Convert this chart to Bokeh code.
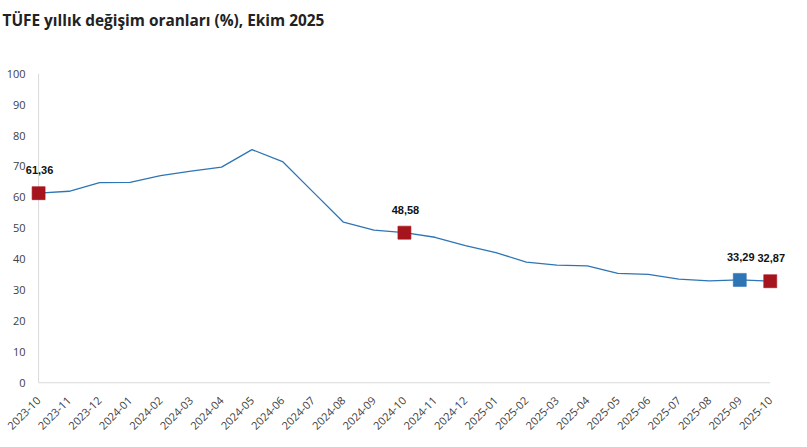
from bokeh.plotting import figure
from bokeh.models import FixedTicker, Range1d, ColumnDataSource, LabelSet, Title
from bokeh.embed import file_html
from bokeh.resources import INLINE
from bokeh.core.properties import value

months = ["2023-10", "2023-11", "2023-12", "2024-01", "2024-02", "2024-03", "2024-04",
          "2024-05", "2024-06", "2024-07", "2024-08", "2024-09", "2024-10", "2024-11",
          "2024-12", "2025-01", "2025-02", "2025-03", "2025-04", "2025-05", "2025-06",
          "2025-07", "2025-08", "2025-09", "2025-10"]
cpi = [61.36, 61.98, 64.77, 64.86, 67.07, 68.50, 69.80, 75.45, 71.60, 61.78, 51.97,
       49.38, 48.58, 47.09, 44.38, 42.12, 39.05, 38.10, 37.86, 35.41, 35.05, 33.52,
       32.95, 33.29, 32.87]
highlight_months = ["2023-10", "2024-10", "2025-09", "2025-10"]
highlight_colors = ["#A6151E", "#A6151E", "#2E75B6", "#A6151E"]
y_ticks = [0, 10, 20, 30, 40, 50, 60, 70, 80, 90, 100]

xs = list(range(len(months)))
n = len(months)

p = figure(width=807, height=447, output_backend="svg", toolbar_location=None,
           x_range=Range1d(-1.25, n - 0.5), y_range=Range1d(-2.5, 103),
           y_axis_location=None,
           min_border_left=0, min_border_right=22, min_border_top=64, min_border_bottom=57)

p.title.text = "TÜFE yıllık değişim oranları (%), Ekim 2025"
p.title.text_font = "Open Sans"
p.title.text_font_style = "bold"
p.title.text_font_size = "15.4px"
p.title.text_color = "#222222"
p.title.standoff = 10
p.title.offset = 2

# spacer between title and plot area
p.add_layout(Title(text=" ", text_font_size="10px", standoff=16), "above")

p.outline_line_color = None
p.xgrid.grid_line_color = None
p.ygrid.grid_line_color = None

# axis lines
p.segment(x0=[0, 0], y0=[y_ticks[0], y_ticks[0]], x1=[0, n - 1], y1=[y_ticks[-1], y_ticks[0]],
          line_color="#D9D9D9", line_width=1)

# y tick labels
p.text(x=[0] * len(y_ticks), y=y_ticks, text=[str(t) for t in y_ticks],
       x_offset=-13, text_align="right", text_baseline="middle",
       text_font=value("Open Sans"), text_font_size="11px", text_color="#404040")

p.line(xs, cpi, line_color="#2E75B6", line_width=1.3)

hx = [months.index(m) for m in highlight_months]
hy = [cpi[i] for i in hx]
src = ColumnDataSource(dict(x=hx, y=hy, c=highlight_colors,
                            t=[f"{v:.2f}".replace(".", ",") for v in hy]))
p.scatter("x", "y", source=src, marker="square", size=13, fill_color="c",
          line_color="c", line_alpha=0.6)
labels = LabelSet(x="x", y="y", text="t", source=src, x_offset=1, y_offset=23,
                  text_align="center", text_baseline="middle",
                  text_font=value("Liberation Sans"), text_font_style="bold",
                  text_font_size="11px", text_color="#111111")
p.add_layout(labels)

p.xaxis.ticker = FixedTicker(ticks=xs)
p.xaxis.major_label_overrides = {i: m for i, m in enumerate(months)}
p.xaxis.major_label_orientation = 0.785398
p.xaxis.major_tick_line_color = None
p.xaxis.minor_tick_line_color = None
p.xaxis.axis_line_color = None
p.xaxis.major_label_text_font = "Open Sans"
p.xaxis.major_label_text_font_size = "11px"
p.xaxis.major_label_text_color = "#404040"
p.xaxis.major_label_standoff = 2

open("out.html", "w").write(file_html(p, INLINE))
